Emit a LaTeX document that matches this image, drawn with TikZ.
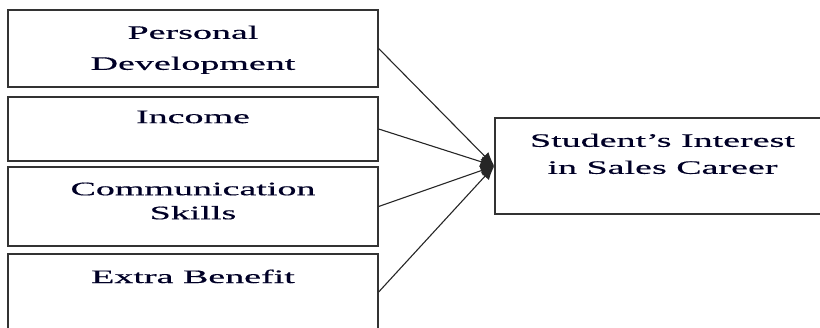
\documentclass[tikz,border=0pt]{standalone}
\usepackage{fontspec}
\setmainfont{Liberation Serif}[FakeStretch=2.0, FakeBold=0.5]
\usetikzlibrary{arrows.meta}

\begin{document}
\begin{tikzpicture}[x=1pt, y=-1pt, ->, >={Latex[length=14pt,width=11pt]}, semithick]
    \tikzstyle{factor}=[draw=black!80, line width=1.3pt, rectangle, inner sep=0pt]
    \tikzstyle{txt}=[anchor=north, align=center, inner sep=0pt, yshift=-16pt,
                     font=\fontsize{19}{31}\selectfont, text=black!85!blue]

    \useasboundingbox (0,0) rectangle (820,328);
    \clip (0,0) rectangle (820,328);

    \node[factor, minimum width=370pt, minimum height=77pt,
          label={[txt]north:Personal\\Development}] (PD) at (193,48.5) {};
    \node[factor, minimum width=370pt, minimum height=64pt,
          label={[txt, yshift=2pt]north:Income}] (IN) at (193,129) {};
    \node[factor, minimum width=370pt, minimum height=79pt,
          label={[txt, font=\fontsize{19}{24}\selectfont]north:Communication\\Skills}] (CS) at (193,206.5) {};
    \node[factor, minimum width=370pt, minimum height=76pt,
          label={[txt]north:Extra Benefit}] (EB) at (193,292) {};

    \node[factor, minimum width=335pt, minimum height=96pt,
          label={[txt, font=\fontsize{19}{27}\selectfont]north:Student’s Interest\\in Sales Career}] (SI) at (662.5,166) {};

    \path[black!85, line width=1.1pt] (PD.east) edge (SI.west)
                                      (IN.east) edge (SI.west)
                                      (CS.east) edge (SI.west)
                                      (EB.east) edge (SI.west);
\end{tikzpicture}
\end{document}
